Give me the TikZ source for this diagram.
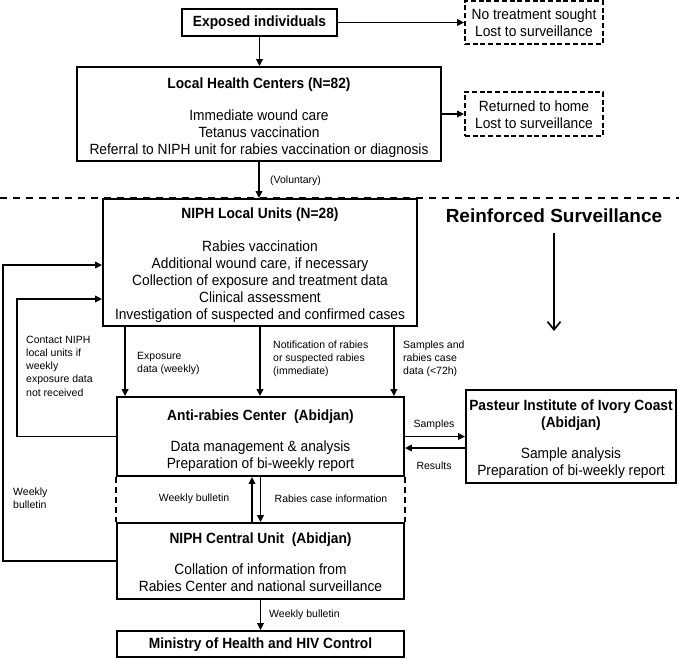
\documentclass[tikz,border=0pt]{standalone}
\usepackage{fontspec}
\setmainfont{Liberation Sans}
\newfontfamily\mainf{Liberation Sans}[FakeStretch=0.93]
\usetikzlibrary{arrows.meta}
\newcommand{\topfix}[1]{\rule{0pt}{#1pt}}
\begin{document}
\begin{tikzpicture}[x=1pt,y=-1pt,
  box/.style={draw,line width=1.8pt,fill=white,inner sep=1pt,align=center,
    font=\mainf\fontsize{14.8}{17}\selectfont},
  dbox/.style={box,dash pattern=on 5pt off 2.7pt},
  arr/.style={line width=1.6pt,-{Triangle[length=7pt,width=6.5pt]}},
  barb/.style={line width=1.7pt,-{Straight Barb[length=8pt,width=13pt]}},
  lbl/.style={font=\fontsize{10.5}{13.2}\selectfont,align=left,inner sep=0pt},
  sep/.style={line width=1.4pt,dash pattern=on 7pt off 6pt},
  vdash/.style={line width=1.8pt,dash pattern=on 5.7pt off 4.3pt},
  big/.style={font=\fontsize{19}{22}\selectfont\bfseries,inner sep=0pt}]
\useasboundingbox (0,0) rectangle (679,659);
\coordinate (sepL) at (0,198);
\coordinate (sepR) at (679,198);
\draw[sep] (sepL) -- (sepR);

% boxes
\node[box,minimum width=155pt,minimum height=27pt] (expo) at (259.5,22.5) {\topfix{12}\textbf{Exposed individuals}};
\node[dbox,minimum width=138pt,minimum height=43pt] (notr) at (534,22.5) {\topfix{12}No treatment sought\\Lost to surveillance};
\node[box,minimum width=364pt,minimum height=94pt] (lhc) at (259,114)
  {\topfix{19}\textbf{Local Health Centers (N=82)}\\[15pt]Immediate wound care\\Tetanus vaccination\\Referral to NIPH unit for rabies vaccination or diagnosis};
\node[dbox,minimum width=138pt,minimum height=44pt] (ret) at (534,114) {\topfix{12}Returned to home\\Lost to surveillance};
\node[box,minimum width=314pt,minimum height=127pt] (local) at (260,262.5)
  {\topfix{16}\textbf{NIPH Local Units (N=28)}\\[15.5pt]Rabies vaccination\\Additional wound care, if necessary\\Collection of exposure and treatment data\\Clinical assessment\\Investigation of suspected and confirmed cases};
\node[box,minimum width=287pt,minimum height=79pt] (arc) at (260.5,436.5)
  {\topfix{20}\textbf{Anti-rabies Center~ (Abidjan)}\\[14pt]Data management \& analysis\\Preparation of bi-weekly report};
\node[box,minimum width=210pt,minimum height=93pt] (past) at (571,436.5)
  {\topfix{17}\textbf{Pasteur Institute of Ivory Coast}\\\textbf{(Abidjan)}\\[14pt]Sample analysis\\Preparation of bi-weekly report};
\node[box,minimum width=287pt,minimum height=76pt] (cen) at (260.5,561)
  {\topfix{13}\textbf{NIPH Central Unit~ (Abidjan)}\\[14pt]Collation of information from\\Rabies Center and national surveillance};
\node[box,minimum width=287pt,minimum height=26pt] (mini) at (260.5,644) {\topfix{12}\textbf{Ministry of Health and HIV Control}};

\node[big] (rs) at (554,216) {Reinforced Surveillance};

% labels
\node[lbl,anchor=west] (lvol) at (270,181) {(Voluntary)};
\node[lbl,anchor=west] (lcon) at (26,366) {Contact NIPH\\local units if\\weekly\\exposure data\\not received};
\node[lbl,anchor=west] (lexp) at (137,363.5) {Exposure\\data (weekly)};
\node[lbl,anchor=west] (lnot) at (273,359) {Notification of rabies\\or suspected rabies\\(immediate)};
\node[lbl,anchor=west] (lsam) at (403,359) {Samples and\\rabies case\\data (<72h)};
\node[lbl] (lsmp) at (434,425) {Samples};
\node[lbl] (lres) at (434,466) {Results};
\node[lbl,anchor=west] (lwb1) at (13,498.5) {Weekly\\bulletin};
\node[lbl] (lwb2) at (194,499) {Weekly bulletin};
\node[lbl] (lrci) at (331,499) {Rabies case information};
\node[lbl,anchor=west] (lwb3) at (269,615) {Weekly bulletin};

% connectors
\draw[arr] (expo.east) -- (expo.east -| notr.west);
\draw[arr] (lhc.east) -- (ret.west);
\draw[arr] (expo.south) -- (expo.south |- lhc.north);
\draw[arr] (lhc.south) -- (lhc.south |- local.north);

\coordinate (d1) at ([xshift=23pt]local.south west);
\coordinate (d3) at ([xshift=-24pt]local.south east);
\draw[arr] (d1) -- (d1 |- arc.north);
\draw[arr] (local.south) -- (local.south |- arc.north);
\draw[arr] (d3) -- (d3 |- arc.north);

\coordinate (ox) at (3,0);
\coordinate (ix) at (17,0);
\draw[arr] (cen.west) -- (cen.west -| ox) |- ([yshift=-2.5pt]local.west);
\draw[arr] (arc.west) -- (arc.west -| ix) |- ([yshift=-36.5pt]local.west);

\draw[arr] (arc.east) -- (arc.east -| past.west);
\coordinate (rA) at ([yshift=-11.5pt]past.west);
\draw[arr] (rA) -- (rA -| arc.east);

\draw[vdash] (arc.south west) -- (cen.north west);
\draw[vdash] (arc.south east) -- (cen.north east);
\coordinate (u1) at ([xshift=-8.5pt]cen.north);
\draw[arr] (u1) -- (u1 |- arc.south);
\draw[arr] (arc.south) -- (arc.south |- cen.north);
\draw[arr] (cen.south) -- (mini.north);

\coordinate (rsA) at (554,233);
\coordinate (rsB) at (554,331);
\draw[barb] (rsA) -- (rsB);
\end{tikzpicture}
\end{document}
